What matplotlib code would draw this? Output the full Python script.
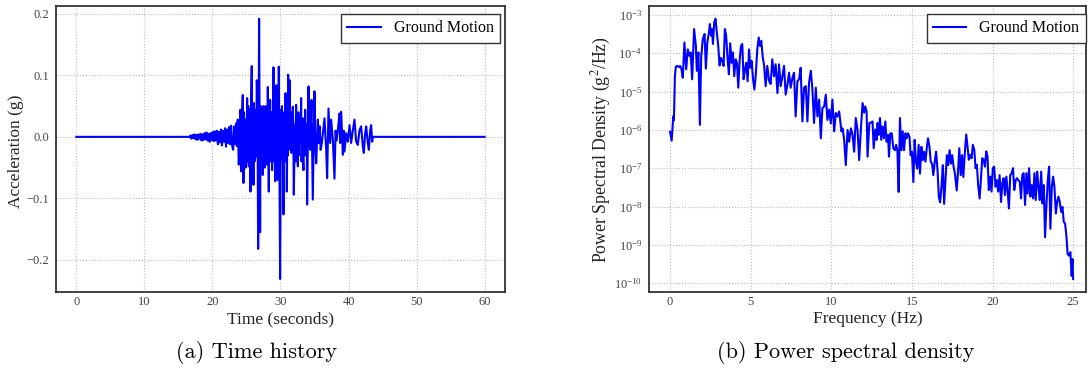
import numpy as np
import matplotlib
matplotlib.use("Agg")
import matplotlib.pyplot as plt
from matplotlib.ticker import LogLocator, NullLocator, LogFormatterMathtext

plt.rcParams["font.family"] = ["Liberation Serif", "DejaVu Serif"]
plt.rcParams["mathtext.fontset"] = "stix"

# ---------------- ground motion record: time (s) and acceleration (g) ----------------
time_s = [
    0.0, 16.6, 16.75, 16.9, 17.05, 17.2, 17.35, 17.5, 17.65, 17.8, 17.95, 18.1, 18.25,
    18.4, 18.55, 18.7, 18.85, 19.0, 19.15, 19.3, 19.45, 19.6, 19.75, 19.9, 20.05, 20.2,
    20.35, 20.5, 20.65, 20.8, 20.95, 21.1, 21.25, 21.4, 21.55, 21.7, 21.85, 22.0, 22.15,
    22.3, 22.45, 22.6, 22.75, 22.9, 23.05, 23.2, 23.35, 23.5, 23.6, 23.72, 23.87, 23.98,
    24.1, 24.2, 24.33,
    24.46, 24.56, 24.64, 24.72, 24.80, 24.88, 24.95, 25.02,
    25.10, 25.18, 25.26, 25.34, 25.45, 25.52, 25.59, 25.68,
    25.78, 25.86, 25.94, 26.03, 26.10, 26.18, 26.25, 26.32,
    26.42, 26.52, 26.62, 26.72, 26.86, 27.01, 27.08, 27.15,
    27.25, 27.33, 27.40, 27.47, 27.55, 27.65, 27.72, 27.80,
    27.89, 27.96, 28.04, 28.14, 28.28, 28.36, 28.42, 28.48,
    28.56, 28.64, 28.77, 28.85, 28.90, 28.97, 29.05, 29.12,
    29.22, 29.30, 29.35, 29.41, 29.49, 29.56, 29.65, 29.70,
    29.75, 29.95, 30.07, 30.15, 30.22, 30.29, 30.35, 30.44,
    30.52, 30.60, 30.67, 30.74, 30.82, 30.87, 30.93, 31.03,
    31.08, 31.13, 31.23, 31.32, 31.45, 31.52, 31.62, 31.70,
    31.75, 31.81, 31.88, 31.96, 32.12, 32.20, 32.30, 32.36,
    32.42, 32.48, 32.55, 32.62, 32.70, 32.79, 32.92, 33.04,
    33.10, 33.20, 33.29, 33.38, 33.46, 33.54, 33.63, 33.78,
    33.85, 33.92, 34.12, 34.22, 34.36, 34.56, 34.75, 35.00,
    35.12, 35.25, 35.49, 35.62, 35.78, 35.9, 36.08, 36.3, 36.47, 36.72, 36.86, 37.06,
    37.3, 37.45, 37.7, 37.94, 38.1, 38.25, 38.43, 38.68, 38.77, 38.92, 39.17, 39.3,
    39.41, 39.66, 39.9, 40.15, 40.39, 40.6, 40.88, 41.13, 41.37, 41.62, 41.86, 42.11,
    42.25, 42.45, 42.6, 42.84, 42.99, 43.19, 43.33, 43.48, 43.58, 60.0,
]
accel_g = [
    0.0, 0.0, 0.002, -0.003, 0.003, -0.002, 0.004, -0.004, 0.003, -0.005, 0.004, -0.003,
    0.005, -0.006, 0.004, -0.005, 0.006, -0.004, 0.007, -0.006, 0.005, -0.008, 0.006,
    -0.005, 0.008, -0.007, 0.009, -0.006, 0.010, -0.012, 0.008, -0.009, 0.012, -0.014,
    0.010, -0.008, 0.014, -0.016, 0.012, -0.010, 0.016, -0.012, 0.018, -0.015, -0.021,
    0.017, -0.012, 0.022, -0.015, 0.028, -0.045, -0.020, 0.044, -0.056, 0.030,
    0.068, -0.075, 0.040, -0.035, 0.028, -0.050, 0.020, -0.030,
    0.063, -0.040, 0.050, -0.048, 0.020, 0.045, -0.089, 0.060,
    0.115, -0.060, 0.030, -0.078, 0.055, -0.040, 0.010, 0.044,
    -0.032, 0.092, 0.040, -0.182, 0.192, -0.155, 0.050, -0.040,
    0.044, 0.020, -0.062, 0.050, -0.040, 0.038, -0.050, 0.050,
    -0.032, 0.040, -0.045, 0.081, -0.089, 0.030, -0.030, 0.060,
    -0.040, 0.040, -0.054, 0.040, -0.030, 0.113, -0.040, 0.050,
    -0.072, 0.040, -0.040, 0.084, 0.030, -0.070, 0.050, -0.050,
    0.114, -0.231, 0.044, -0.030, 0.050, -0.037, 0.015, -0.126,
    0.040, -0.030, 0.020, 0.071, -0.040, 0.030, -0.089, 0.040,
    -0.030, 0.101, -0.021, 0.092, -0.015, 0.040, -0.026, 0.035,
    -0.020, 0.049, 0.020, -0.094, 0.020, -0.040, 0.052, -0.030,
    -0.020, 0.030, -0.048, 0.040, -0.030, 0.033, -0.010, 0.063,
    -0.040, 0.030, -0.030, -0.054, 0.030, -0.030, 0.044, -0.030,
    0.020, -0.110, 0.082, 0.005, -0.021, 0.060, -0.102, 0.074,
    -0.010, -0.043, 0.028, -0.010, 0.017, -0.021, -0.010, 0.012, 0.030, -0.021, -0.067,
    0.046, -0.010, 0.028, -0.005, -0.068, 0.010, -0.006, 0.011, 0.038, -0.010, 0.041,
    -0.029, 0.010, -0.024, 0.006, -0.008, 0.019, -0.010, 0.008, 0.028, -0.008, -0.013,
    0.011, 0.017, -0.016, -0.026, 0.006, 0.017, -0.010, -0.021, 0.011, 0.019, -0.008,
    0.0, 0.0,
]

# ---------------- power spectral density: frequency (Hz) and log10 PSD (g^2/Hz) --------
freq_hz = [
    0.00, 0.10, 0.20, 0.24, 0.30, 0.36, 0.44, 0.54, 0.62, 0.70, 0.79, 0.89, 1.00, 1.10,
    1.20, 1.28, 1.37, 1.49, 1.60, 1.66, 1.76, 1.85, 1.93, 2.03, 2.14, 2.22, 2.31, 2.41,
    2.47, 2.54, 2.60, 2.66, 2.74, 2.82, 2.90, 2.99, 3.07, 3.15, 3.24, 3.32, 3.40, 3.48,
    3.57, 3.65, 3.73, 3.82, 3.90, 3.98, 4.07, 4.15, 4.23, 4.32, 4.40, 4.48, 4.56, 4.65,
    4.73, 4.81, 4.90, 4.98, 5.06, 5.15, 5.23, 5.31, 5.41, 5.50, 5.58, 5.66, 5.75, 5.83,
    5.93, 6.03, 6.14, 6.24, 6.34, 6.45, 6.55, 6.66, 6.76, 6.86, 6.97, 7.07, 7.17, 7.28,
    7.38, 7.48, 7.59, 7.69, 7.79, 7.90, 8.00, 8.10, 8.21, 8.31, 8.42, 8.52, 8.62, 8.73,
    8.83, 8.93, 9.04, 9.14, 9.25, 9.35, 9.45, 9.56, 9.66, 9.76, 9.87, 9.97, 10.07, 10.18,
    10.28, 10.38, 10.49, 10.63, 10.70, 10.80, 10.90, 11.01, 11.11, 11.22, 11.32, 11.42,
    11.52, 11.63, 11.73, 11.84, 11.94, 12.04, 12.11, 12.19, 12.25, 12.36, 12.46, 12.56,
    12.63, 12.73, 12.81, 12.87, 12.94, 13.02, 13.10, 13.18, 13.27, 13.35, 13.43, 13.52,
    13.58, 13.66, 13.75, 13.85, 13.95, 14.02, 14.10, 14.18, 14.26, 14.35, 14.43, 14.51,
    14.60, 14.68, 14.76, 14.85, 14.92, 15.00, 15.09, 15.17, 15.25, 15.33, 15.42, 15.50,
    15.59, 15.67, 15.75, 15.84, 15.92, 16.00, 16.09, 16.17, 16.25, 16.33, 16.42, 16.50,
    16.59, 16.67, 16.75, 16.84, 16.92, 17.00, 17.09, 17.17, 17.25, 17.34, 17.42, 17.50,
    17.59, 17.67, 17.78, 17.86, 17.94, 18.03, 18.11, 18.19, 18.28, 18.37, 18.45, 18.53,
    18.62, 18.70, 18.78, 18.87, 18.95, 19.03, 19.11, 19.20, 19.28, 19.36, 19.45, 19.53,
    19.61, 19.69, 19.77, 19.86, 19.94, 20.02, 20.10, 20.19, 20.27, 20.35, 20.44, 20.53,
    20.61, 20.69, 20.77, 20.86, 20.94, 21.02, 21.10, 21.19, 21.27, 21.35, 21.44, 21.52,
    21.60, 21.69, 21.77, 21.85, 21.93, 22.02, 22.10, 22.18, 22.27, 22.35, 22.43, 22.52,
    22.60, 22.68, 22.77, 22.85, 22.93, 23.02, 23.10, 23.18, 23.26, 23.35, 23.43, 23.51,
    23.59, 23.68, 23.76, 23.84, 23.93, 24.01, 24.09, 24.17, 24.26, 24.34, 24.42, 24.50,
    24.58, 24.66, 24.75, 24.83, 24.91, 24.96, 25.00,
]
psd_log10 = [
    -6.05, -6.28, -5.65, -5.75, -4.60, -4.35, -4.33, -4.36, -4.33, -4.40, -4.64, -3.72,
    -4.42, -3.90, -4.07, -3.98, -4.68, -3.37, -3.80, -4.46, -3.98, -5.87, -4.11, -3.63,
    -3.50, -4.40, -3.72, -3.46, -3.24, -3.54, -3.37, -3.76, -3.19, -3.10, -3.46, -3.81,
    -4.32, -4.12, -4.20, -4.33, -3.37, -3.54, -4.16, -4.55, -3.74, -4.25, -3.98, -4.60,
    -4.16, -4.25, -4.90, -4.16, -3.81, -3.76, -4.68, -4.42, -4.25, -4.73, -3.90, -4.38,
    -4.20, -4.68, -4.95, -4.60, -3.90, -3.59, -3.81, -3.68, -4.11, -4.30, -4.86, -4.33,
    -4.72, -4.80, -4.16, -4.60, -4.29, -5.04, -4.29, -4.86, -4.60, -4.33, -5.08, -4.82,
    -4.51, -4.90, -4.64, -4.51, -5.65, -4.73, -4.68, -4.38, -5.78, -4.90, -4.86, -5.78,
    -4.77, -4.46, -4.95, -5.82, -4.90, -5.65, -5.21, -6.22, -5.43, -5.39, -5.08, -5.74,
    -5.47, -5.83, -5.21, -6.04, -5.56, -5.65, -5.52, -6.04, -5.96, -6.26, -6.92, -6.00,
    -6.31, -5.96, -6.13, -6.57, -5.69, -6.00, -6.79, -5.96, -5.30, -5.55, -5.39, -5.52,
    -6.70, -5.82, -5.81, -5.78, -6.48, -5.99, -6.26, -5.82, -6.13, -5.69, -6.26, -5.91,
    -6.22, -5.78, -6.31, -6.13, -6.70, -6.09, -6.09, -6.48, -6.53, -6.39, -6.53, -7.62,
    -5.69, -6.53, -6.04, -6.53, -6.09, -6.22, -6.09, -6.18, -6.66, -6.57, -7.36, -6.26,
    -6.83, -7.01, -6.39, -7.14, -6.44, -6.79, -6.57, -6.83, -6.48, -6.22, -6.44, -6.83,
    -6.88, -7.18, -6.83, -6.57, -7.05, -7.75, -7.89, -7.45, -6.92, -7.93, -7.27, -6.66,
    -6.92, -6.53, -6.88, -6.66, -6.97, -7.14, -7.58, -7.10, -6.48, -7.18, -6.66, -7.23,
    -6.61, -6.12, -6.43, -6.78, -6.65, -6.74, -6.39, -6.52, -7.00, -6.91, -7.44, -7.79,
    -7.31, -6.74, -6.78, -6.96, -6.56, -6.69, -7.57, -7.22, -7.61, -7.00, -6.96, -7.48,
    -7.31, -7.61, -7.18, -7.88, -7.39, -7.26, -7.70, -7.22, -7.61, -8.05, -7.18, -7.13,
    -7.00, -7.57, -7.31, -7.26, -7.31, -7.35, -7.79, -7.18, -7.13, -7.96, -7.13, -7.66,
    -7.00, -7.74, -7.44, -7.79, -7.13, -7.83, -7.09, -7.48, -7.83, -7.09, -7.92, -7.44,
    -8.80, -7.92, -7.31, -6.96, -8.58, -7.48, -7.22, -7.48, -8.18, -7.88, -7.74, -7.88,
    -8.14, -8.01, -8.40, -8.44, -8.75, -9.24, -9.28, -9.19, -9.81, -9.37, -9.89,
]

LINE_COLOR = "#0000ff"
SPINE_COLOR = "#333333"
TICK_COLOR = "#444444"
LABEL_COLOR = "#222222"

fig = plt.figure(figsize=(10.89, 3.75), dpi=100)
ax1 = fig.add_axes([0.0514, 0.2213, 0.4123, 0.7635])
ax2 = fig.add_axes([0.5962, 0.2213, 0.4015, 0.7635])


def style_axes(ax):
    ax.set_facecolor("white")
    for sp in ax.spines.values():
        sp.set_color(SPINE_COLOR)
        sp.set_linewidth(1.3)
    ax.grid(True, which="major", linestyle=":", color="#bdbdbd", linewidth=0.8)
    ax.set_axisbelow(True)
    ax.tick_params(which="both", length=0, labelsize=9, labelcolor=TICK_COLOR)
    ax.tick_params(axis="x", pad=3)
    ax.tick_params(axis="y", pad=5)


def add_legend(ax, right):
    leg = ax.legend(loc="upper right", bbox_to_anchor=(right, 0.971), borderaxespad=0,
                    fontsize=11.5, fancybox=False, framealpha=1, edgecolor="#333333",
                    handlelength=2.1)
    leg.get_frame().set_linewidth(1.0)


# time history
ax1.plot(time_s, accel_g, color=LINE_COLOR, linewidth=1.5, label="Ground Motion")
style_axes(ax1)
ax1.set_xticks(np.arange(0, 61, 10))
ax1.set_yticks([-0.2, -0.1, 0.0, 0.1, 0.2])
ax1.set_xlabel("Time (seconds)", fontsize=12.5, color=LABEL_COLOR, labelpad=2)
ax1.set_ylabel("Acceleration (g)", fontsize=12.5, color=LABEL_COLOR)
ax1.yaxis.set_label_coords(-0.071, 0.49)
add_legend(ax1, 0.989)

# power spectral density
ax2.plot(freq_hz, 10.0 ** np.array(psd_log10), color=LINE_COLOR, linewidth=1.5,
         label="Ground Motion")
ax2.set_yscale("log")
style_axes(ax2)
ax2.set_xlim(-1.29, 25.83)
ax2.set_xticks([0, 5, 10, 15, 20, 25])
ax2.yaxis.set_major_locator(LogLocator(base=10, numticks=20))
ax2.yaxis.set_major_formatter(LogFormatterMathtext())
ax2.yaxis.set_minor_locator(NullLocator())
ax2.set_xlabel("Frequency (Hz)", fontsize=12.5, color=LABEL_COLOR, labelpad=2)
ax2.set_ylabel(r"Power Spectral Density (g$^2$/Hz)", fontsize=12.8, color=LABEL_COLOR)
ax2.yaxis.set_label_coords(-0.083, 0.496)
add_legend(ax2, 0.998)

# sub-figure captions
fig.text(0.2355, 0.059, "(a) Time history", ha="center", va="center",
         fontsize=16, family="cmr10")
fig.text(0.7764, 0.059, "(b) Power spectral density", ha="center", va="center",
         fontsize=16, family="cmr10")

fig.savefig("out.png", dpi=100)
